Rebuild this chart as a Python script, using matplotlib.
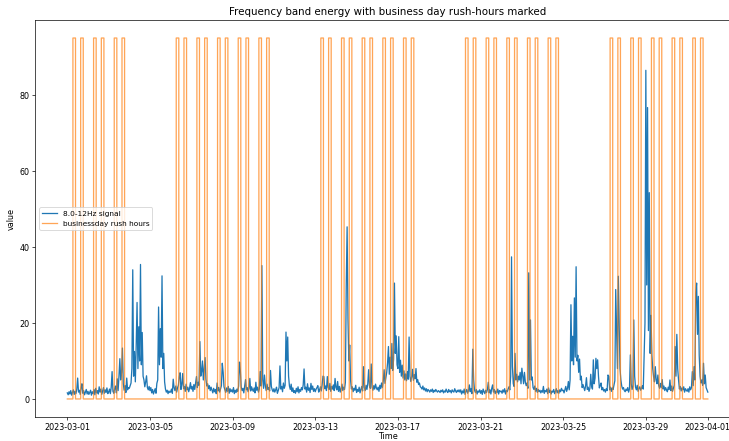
import numpy as np
import pandas as pd
import matplotlib
matplotlib.use("Agg")
import matplotlib.pyplot as plt
import matplotlib.dates as mdates

# hourly 8-12 Hz band energy, one row per day of March 2023 (00:00 .. 23:00)
signal_rows = [
    [1.6, 1.1, 1.9, 1.3, 2.2, 1.0, 1.7, 2.4, 1.2, 2.0, 1.4, 2.6, 5.5, 1.8, 2.3, 1.2, 2.9, 4.0, 1.5, 2.2, 1.1, 1.8, 2.5, 1.3],
    [2.0, 1.2, 1.7, 2.3, 1.0, 1.9, 1.4, 2.5, 1.1, 2.8, 1.6, 2.2, 1.3, 3.2, 1.8, 2.6, 1.2, 2.1, 3.0, 1.5, 2.4, 1.7, 2.9, 1.4],
    [1.8, 2.6, 1.4, 3.1, 7.2, 2.0, 1.5, 2.7, 3.4, 1.6, 5.3, 2.2, 6.0, 10.6, 5.0, 7.0, 13.4, 4.0, 2.3, 3.5, 1.7, 5.5, 2.4, 3.0],
    [2.8, 3.5, 4.2, 8.0, 34.0, 6.0, 12.5, 4.5, 14.0, 25.4, 8.0, 19.0, 10.0, 35.4, 9.0, 17.5, 6.0, 5.0, 3.2, 4.5, 6.1, 3.0, 2.4, 3.3],
    [2.2, 3.0, 1.6, 2.5, 1.3, 2.0, 2.7, 1.5, 4.1, 5.0, 24.2, 9.0, 18.5, 11.0, 32.4, 8.0, 12.0, 4.5, 2.6, 1.8, 2.3, 1.4, 2.1, 1.7],
    [1.9, 2.6, 1.5, 5.2, 3.0, 2.2, 3.4, 1.8, 2.9, 3.6, 5.8, 6.9, 2.5, 3.8, 6.7, 2.7, 3.3, 2.0, 3.9, 2.4, 3.1, 1.9, 2.8, 4.3],
    [2.6, 3.3, 2.0, 3.8, 2.5, 4.1, 5.9, 3.0, 4.4, 3.6, 15.1, 6.0, 7.2, 10.0, 5.0, 8.1, 10.9, 5.2, 3.4, 4.0, 2.7, 3.5, 2.2, 3.1],
    [2.3, 1.6, 2.8, 1.9, 2.5, 1.4, 4.2, 2.1, 3.0, 1.8, 2.6, 3.5, 9.4, 7.0, 3.2, 2.4, 1.7, 2.9, 2.0, 3.3, 1.5, 2.7, 1.9, 2.4],
    [1.8, 3.0, 1.4, 2.3, 1.7, 2.6, 2.0, 3.4, 9.7, 7.4, 3.1, 2.2, 2.8, 1.6, 3.3, 5.1, 2.4, 3.0, 1.9, 2.7, 5.4, 2.1, 3.2, 2.5],
    [2.0, 2.9, 1.6, 4.4, 2.3, 3.1, 1.8, 2.6, 7.2, 3.4, 35.1, 5.0, 2.8, 6.3, 3.5, 2.2, 3.9, 2.5, 3.0, 2.1, 7.5, 3.3, 2.4, 1.9],
    [2.7, 1.8, 2.4, 3.1, 1.5, 2.2, 3.0, 8.7, 2.6, 3.3, 1.9, 4.2, 2.8, 3.6, 17.6, 10.0, 16.3, 6.0, 3.4, 2.5, 3.9, 2.0, 2.9, 1.7],
    [2.2, 1.5, 2.8, 1.9, 3.2, 1.6, 2.5, 2.0, 3.0, 2.4, 3.7, 7.9, 2.6, 3.1, 1.8, 4.0, 2.3, 2.9, 1.7, 4.1, 2.5, 3.4, 2.0, 2.7],
    [1.9, 2.6, 3.0, 3.5, 1.8, 2.4, 3.2, 2.1, 3.8, 6.0, 5.9, 2.7, 3.4, 2.2, 5.9, 3.0, 2.5, 4.1, 2.0, 3.3, 2.6, 3.7, 2.2, 5.4],
    [3.0, 2.4, 4.6, 2.0, 3.3, 1.8, 2.7, 3.9, 2.2, 3.1, 2.5, 4.4, 29.6, 45.3, 21.0, 10.0, 14.2, 5.0, 2.6, 3.2, 1.9, 2.8, 2.3, 3.6],
    [1.7, 2.5, 2.0, 3.1, 1.6, 2.4, 3.3, 2.1, 8.5, 3.0, 2.2, 3.6, 2.5, 4.0, 7.7, 3.4, 2.8, 9.2, 3.1, 2.3, 3.5, 2.6, 3.9, 2.9],
    [2.4, 3.1, 2.0, 3.6, 2.7, 4.2, 3.0, 4.8, 7.7, 4.1, 5.6, 7.0, 9.5, 13.8, 6.5, 11.0, 8.0, 14.6, 7.5, 10.5, 30.5, 12.0, 16.6, 9.0],
    [8.0, 16.4, 7.0, 10.2, 6.0, 8.9, 5.5, 7.4, 5.0, 6.6, 4.8, 7.2, 5.2, 16.3, 6.0, 4.6, 5.8, 7.8, 4.9, 6.4, 5.3, 8.0, 4.4, 5.1],
    [3.8, 4.2, 3.2, 3.0, 2.6, 3.4, 2.4, 2.9, 2.1, 2.7, 1.9, 2.5, 2.2, 1.8, 2.4, 2.0, 2.6, 1.7, 2.3, 1.9, 2.5, 2.1, 1.8, 2.2],
    [2.0, 1.7, 2.3, 1.9, 2.4, 1.6, 2.1, 1.8, 2.6, 2.0, 1.7, 2.5, 1.9, 2.2, 1.6, 2.4, 2.0, 1.8, 2.7, 2.1, 1.7, 2.3, 1.9, 2.4],
    [1.8, 2.4, 1.3, 2.1, 1.6, 2.6, 1.2, 2.0, 2.5, 1.5, 2.2, 3.7, 1.9, 2.7, 1.4, 13.1, 5.0, 2.3, 1.7, 2.5, 1.3, 2.1, 1.8, 2.4],
    [1.5, 2.2, 1.2, 2.6, 1.9, 1.4, 2.3, 1.7, 2.5, 4.4, 1.6, 2.4, 1.3, 2.8, 3.7, 1.8, 2.5, 1.4, 2.1, 1.7, 2.6, 1.3, 2.2, 1.9],
    [2.1, 1.5, 2.4, 1.8, 2.7, 1.3, 2.2, 1.9, 2.6, 3.2, 2.4, 6.0, 37.4, 8.6, 4.0, 3.3, 12.0, 5.0, 6.5, 4.5, 6.0, 5.0, 7.0, 4.0],
    [8.1, 6.0, 4.0, 7.0, 4.5, 3.5, 4.2, 2.8, 33.2, 5.0, 20.8, 5.0, 5.8, 3.0, 2.5, 3.4, 2.0, 2.8, 1.7, 2.5, 1.9, 2.3, 1.6, 2.2],
    [1.8, 3.3, 1.5, 2.2, 1.9, 2.6, 1.4, 2.9, 1.7, 2.3, 1.3, 2.1, 1.8, 2.5, 1.4, 2.0, 2.7, 1.6, 2.2, 1.5, 2.4, 1.9, 2.8, 2.2],
    [2.3, 1.6, 2.5, 3.3, 2.0, 2.8, 4.6, 2.4, 5.0, 24.8, 10.0, 16.5, 9.0, 26.6, 11.0, 34.8, 10.0, 11.5, 7.0, 10.5, 5.0, 6.0, 3.0, 3.8],
    [3.0, 2.2, 3.4, 5.6, 2.5, 3.1, 2.0, 2.8, 6.5, 3.3, 2.6, 10.3, 4.0, 5.5, 10.7, 8.0, 10.3, 6.0, 2.9, 3.5, 4.2, 2.4, 3.0, 2.1],
    [2.5, 1.8, 2.7, 2.2, 6.3, 6.0, 2.4, 3.1, 2.0, 2.9, 2.5, 3.6, 4.8, 28.8, 18.0, 8.0, 32.3, 19.7, 8.0, 5.0, 3.4, 2.6, 3.0, 2.2],
    [1.9, 2.6, 2.2, 3.0, 1.8, 2.7, 11.6, 4.0, 2.5, 3.3, 20.8, 6.0, 3.1, 2.4, 3.6, 2.0, 2.8, 3.2, 2.3, 2.9, 3.5, 2.6, 11.6, 20.0],
    [86.5, 30.0, 76.7, 18.0, 54.3, 12.0, 22.0, 11.6, 8.0, 5.9, 4.5, 8.5, 5.0, 4.0, 6.3, 3.5, 2.8, 4.1, 3.0, 5.1, 2.6, 3.4, 2.2, 3.0],
    [2.4, 1.9, 3.1, 2.5, 5.0, 2.2, 3.4, 2.0, 2.8, 3.6, 13.8, 6.0, 17.0, 8.0, 5.0, 2.6, 3.3, 2.1, 2.9, 2.4, 3.2, 1.8, 2.7, 2.3],
    [2.0, 2.7, 1.8, 3.2, 2.4, 3.0, 7.2, 3.5, 8.5, 5.0, 27.9, 30.5, 17.0, 27.0, 11.5, 6.0, 4.2, 5.0, 3.6, 9.4, 4.0, 6.3, 3.0, 2.4],
]
last_value = 1.8  # 2023-04-01 00:00

start = "2023-03-01 00:00"
end = "2023-04-01 00:00"
rush_hours = [7, 8, 9, 16, 17, 18]  # business days only
rush_level = 95

times = pd.date_range(start, end, freq="h")
signal = np.array([v for row in signal_rows for v in row] + [last_value])

business = times.dayofweek < 5
rush = np.where(business & times.hour.isin(rush_hours), rush_level, 0)

fig = plt.figure(figsize=(11.84, 7.16), dpi=61.6)
ax = fig.add_axes([0.0484, 0.0544, 0.966, 0.9002])

ax.plot(times, signal, color="C0", label="8.0-12Hz signal")
ax.plot(times, rush, color="C1", alpha=0.7, drawstyle="steps-mid",
        label="businessday rush hours")

ax.xaxis.set_major_locator(mdates.DayLocator(bymonthday=range(1, 32, 4)))
ax.xaxis.set_major_formatter(mdates.DateFormatter("%Y-%m-%d"))
ax.tick_params(labelsize=9.3)

ax.set_title("Frequency band energy with business day rush-hours marked", fontsize=12)
ax.set_xlabel("Time", fontsize=9.3, labelpad=0)
ax.set_ylabel("value", fontsize=9.3)
ax.legend(loc="center left", fontsize=8.7)

fig.savefig("out.png", dpi=61.6)
